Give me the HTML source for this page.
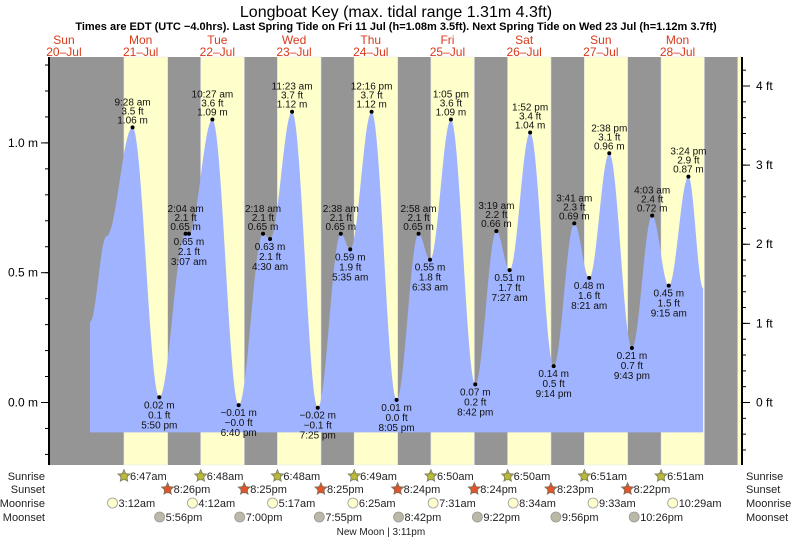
<!DOCTYPE html>
<html><head><meta charset="utf-8"><style>
body{margin:0;background:#fff;}
svg{display:block;font-family:"Liberation Sans",sans-serif;}
</style></head><body>
<svg id="chart" width="793" height="539" viewBox="0 0 793 539" xmlns="http://www.w3.org/2000/svg">
<text x="396" y="17" font-size="16" text-anchor="middle">Longboat Key (max. tidal range 1.31m 4.3ft)</text>
<text x="396" y="30" font-size="11" font-weight="bold" text-anchor="middle">Times are EDT (UTC −4.0hrs). Last Spring Tide on Fri 11 Jul (h=1.08m 3.5ft). Next Spring Tide on Wed 23 Jul (h=1.12m 3.7ft)</text>
<g id="bands"></g><g id="tide"></g><g id="axes"></g><g id="labels"></g><g id="astro"></g>
</svg>
<script>
const dayNames=["Sun","Mon","Tue","Wed","Thu","Fri","Sat","Sun","Mon"];
const dayDates=["20–Jul","21–Jul","22–Jul","23–Jul","24–Jul","25–Jul","26–Jul","27–Jul","28–Jul"];
const extremeTimes=["9:28 am","5:50 pm","2:04 am","3:07 am","10:27 am","6:40 pm","2:18 am","4:30 am","11:23 am","7:25 pm","2:38 am","5:35 am","12:16 pm","8:05 pm","2:58 am","6:33 am","1:05 pm","8:42 pm","3:19 am","7:27 am","1:52 pm","9:14 pm","3:41 am","8:21 am","2:38 pm","9:43 pm","4:03 am","9:15 am","3:24 pm"];
const extremeDays=[1,1,2,2,2,2,3,3,3,3,4,4,4,4,5,5,5,5,6,6,6,6,7,7,7,7,8,8,8];
const extremeMeters=[1.06,0.02,0.65,0.65,1.09,-0.01,0.65,0.63,1.12,-0.02,0.65,0.59,1.12,0.01,0.65,0.55,1.09,0.07,0.66,0.51,1.04,0.14,0.69,0.48,0.96,0.21,0.72,0.45,0.87];
const extremeFeet=["3.5","0.1","2.1","2.1","3.6","−0.0","2.1","2.1","3.7","−0.1","2.1","1.9","3.7","0.0","2.1","1.8","3.6","0.2","2.2","1.7","3.4","0.5","2.3","1.6","3.1","0.7","2.4","1.5","2.9"];
const extremeIsHigh=[1,0,1,0,1,0,1,0,1,0,1,0,1,0,1,0,1,0,1,0,1,0,1,0,1,0,1,0,1];
const startHour=20.15, startMeters=0.31, shoulderHour=25.3, shoulderMeters=0.64, endHour=212, endMeters=0.44;
const sunriseTimes=["6:47am","6:48am","6:48am","6:49am","6:50am","6:50am","6:51am","6:51am"];
const sunsetTimes=["8:26pm","8:25pm","8:25pm","8:24pm","8:24pm","8:23pm","8:22pm","8:22pm"];
const moonriseTimes=["3:12am","4:12am","5:17am","6:25am","7:31am","8:34am","9:33am","10:29am"];
const moonsetTimes=["5:56pm","7:00pm","7:55pm","8:42pm","9:22pm","9:56pm","10:26pm"];
const meterTicks=[0,0.5,1.0];
const feetTicks=[0,1,2,3,4];

const NS="http://www.w3.org/2000/svg";
const X0=25.6, PXH=76.7/24, Y0=402.5, PXM=259.6, L=49, R=742, T=57, B=465;
const xh=h=>X0+h*PXH, ym=m=>Y0-m*PXM;
function hrs(s){const m=s.match(/(\d+):(\d+)\s*(am|pm)/);let h=+m[1]%12;if(m[3]=="pm")h+=12;return h+ +m[2]/60;}
function mk(p,tag,a,txt){const e=document.createElementNS(NS,tag);for(const k in a)e.setAttribute(k,a[k]);if(txt!=null)e.textContent=txt;p.appendChild(e);return e;}
const bands=document.getElementById('bands'),tide=document.getElementById('tide'),axes=document.getElementById('axes'),labels=document.getElementById('labels'),astro=document.getElementById('astro');

for(let d=0;d<9;d++){const x=xh(d*24+12);
 let t=mk(labels,'text',{x:x,y:44,'font-size':12,fill:'#d83a1a','text-anchor':'middle'},dayNames[d]);
 
 t=mk(labels,'text',{x:x,y:56,'font-size':12,fill:'#d83a1a','text-anchor':'middle'},dayDates[d]);
 }

let r=mk(bands,'rect',{x:L,y:T,width:R-L,height:B-T,fill:'#959595'});

for(let i=0;i<9;i++){const d=i+1;const sr=xh(d*24+hrs(sunriseTimes[Math.min(i,7)]));
 const ss=i<8?xh(d*24+hrs(sunsetTimes[i])):R;
 r=mk(bands,'rect',{x:Math.max(L,sr),y:T,width:Math.min(R,ss)-Math.max(L,sr),height:B-T,fill:'#ffffcc',stroke:'#e8e8e8','stroke-width':0.6});
 }

const pts=[[startHour,startMeters],[shoulderHour,shoulderMeters]];
for(let i=0;i<extremeTimes.length;i++)pts.push([extremeDays[i]*24+hrs(extremeTimes[i]),extremeMeters[i]]);
pts.push([endHour,endMeters]);
let d=`M${xh(pts[0][0])},${ym(-0.115)} L${xh(pts[0][0])},${ym(pts[0][1])}`;
for(let i=0;i<pts.length-1;i++){const [h1,m1]=pts[i],[h2,m2]=pts[i+1];
 for(let k=1;k<=20;k++){const f=k/20,h=h1+(h2-h1)*f,m=m1+(m2-m1)*(1-Math.cos(Math.PI*f))/2;d+=` L${xh(h).toFixed(2)},${ym(m).toFixed(2)}`;}}
d+=` L${xh(endHour)},${ym(-0.115)} Z`;
let p=mk(tide,'path',{d:d,fill:'#a0b3fe'});


for(let i=0;i<extremeTimes.length;i++){const x=xh(extremeDays[i]*24+hrs(extremeTimes[i])),y=ym(extremeMeters[i]);
 const c=mk(labels,'circle',{cx:x,cy:y,r:2,fill:'#000'});
 
 const lines=[extremeTimes[i],extremeFeet[i]+' ft',extremeMeters[i].toFixed(2).replace('-','−')+' m'];
 const g=mk(labels,'g',{'font-size':10,'text-anchor':'middle',fill:'#111'});
 
 if(extremeIsHigh[i]){mk(g,'text',{x:x,y:y-22},lines[0]);mk(g,'text',{x:x,y:y-13},lines[1]);mk(g,'text',{x:x,y:y-4},lines[2]);}
 else{mk(g,'text',{x:x,y:y+11},lines[2]);mk(g,'text',{x:x,y:y+21},lines[1]);mk(g,'text',{x:x,y:y+31},lines[0]);}}

let a=mk(axes,'line',{x1:L,y1:T,x2:L,y2:B,stroke:'#000','stroke-width':2});
a=mk(axes,'line',{x1:R,y1:T,x2:R,y2:B,stroke:'#000','stroke-width':2});
for(let v=-0.2;v<=1.35;v+=0.1){const y=ym(v);if(y<T||y>B)continue;mk(axes,'line',{x1:L-4,y1:y,x2:L,y2:y,stroke:'#000'});}
for(const v of meterTicks){const y=ym(v);mk(axes,'line',{x1:L-8,y1:y,x2:L,y2:y,stroke:'#000'});
 const t=mk(axes,'text',{x:38,y:y+4,'font-size':12,'text-anchor':'end'},v.toFixed(1)+' m');}
for(let f=-0.8;f<=4.4;f+=0.2){const y=ym(f*0.3048);if(y<T||y>B)continue;mk(axes,'line',{x1:R,y1:y,x2:R+4,y2:y,stroke:'#000'});}
for(const f of feetTicks){const y=ym(f*0.3048);mk(axes,'line',{x1:R,y1:y,x2:R+8,y2:y,stroke:'#000'});
 const t=mk(axes,'text',{x:756,y:y+4,'font-size':12},f+' ft');}

const rowY=[476,489,503,517];const rowNames=["Sunrise","Sunset","Moonrise","Moonset"];
rowNames.forEach((n,i)=>{let t=mk(astro,'text',{x:45,y:rowY[i]+4,'font-size':11,'text-anchor':'end',fill:'#222'},n);
 t=mk(astro,'text',{x:746,y:rowY[i]+4,'font-size':11,fill:'#222'},n);});
function star(x,y,fill){let s='';for(let k=0;k<10;k++){const rr=k%2?3:6.5,an=-Math.PI/2+k*Math.PI/5;s+=`${(x+rr*Math.cos(an)).toFixed(1)},${(y+rr*Math.sin(an)).toFixed(1)} `;}
 const e=mk(astro,'polygon',{points:s,fill:fill,stroke:'#776','stroke-width':0.7});mk(astro,'circle',{cx:x,cy:y+0.5,r:3.5,fill:fill,stroke:'#665','stroke-width':0.5});return e;}
function entry(list,row,kind,fill,n){for(let i=0;i<n;i++){const x=xh((i+1)*24+hrs(list[i])),y=rowY[row];
 let ic;if(kind=='star')ic=star(x,y,fill);else ic=mk(astro,'circle',{cx:x,cy:y,r:5,fill:fill,stroke:'#999','stroke-width':0.8});
 
 const t=mk(astro,'text',{x:x+6,y:y+4,'font-size':11,fill:'#222'},list[i]);}}
entry(sunriseTimes,0,'star','#b8b83a',8);
entry(sunsetTimes,1,'star','#e0562a',7);
entry(moonriseTimes,2,'circ','#ffffcc',8);
entry(moonsetTimes,3,'circ','#bbb8a6',7);
const nm=mk(astro,'text',{x:xh(4*24+15.18),y:535,'font-size':10,'text-anchor':'middle',fill:'#222'},'New Moon | 3:11pm');

</script>
</body></html>
